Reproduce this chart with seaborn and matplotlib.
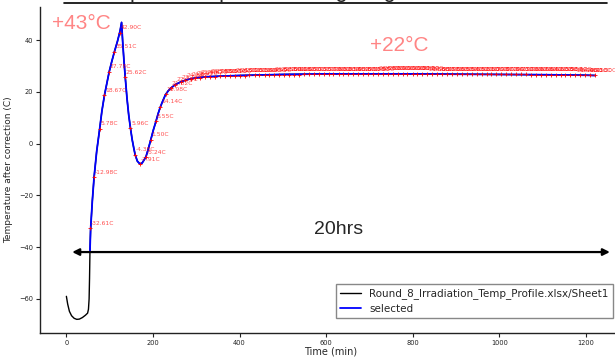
import numpy as np
import pandas as pd
import matplotlib.pyplot as plt
import seaborn as sns

sns.set_theme(style="ticks")
plt.rcParams['font.family'] = ['DejaVu Sans']

# -----------------------------------
# data
# -----------------------------------

# raw data before the selected window (black line)
pre_time = [0, 3, 7, 12, 18, 24, 30, 37, 44, 49, 51, 52.5, 53.5]
pre_temp = [-59, -62, -64.8, -66.5, -67.5, -67.9, -67.8, -67.2, -66.3, -65.5, -64, -60, -52]

# selected window (blue line)
sel_time = [54.5, 56, 60, 64, 70, 77, 82, 88, 94, 99, 105, 111, 118, 124, 127.5,
            130, 133, 136, 140, 144, 148, 152, 156, 159, 164, 170, 175, 180, 184,
            189, 195, 201, 207, 212, 217, 223, 229, 235, 241, 252, 264, 275, 287,
            300, 325, 350, 400, 450, 500, 550, 600, 700, 800, 900, 1000, 1100,
            1200, 1222]
sel_temp = [-41.3, -33, -22, -13, -3, 5.8, 12.5, 18.7, 23.7, 27.8, 31.8, 35.5, 39.5, 43.5, 46.8,
            39.5, 32, 25.6, 17.5, 11, 6, 1.5, -2, -4.4, -6.8, -7.9, -7.5, -6.2, -5.0,
            -2.2, 1.5, 5.3, 8.6, 11.6, 14.1, 16.6, 18.9, 20.3, 21.4, 22.8, 23.8, 24.5, 25.0,
            25.4, 25.8, 26.0, 26.3, 26.5, 26.7, 26.8, 26.9, 26.9, 26.9, 26.8, 26.7, 26.6,
            26.4, 26.3]

# labelled sample points (red + markers)
mark_time = [55, 64, 77, 88, 99, 111, 124, 136, 148, 159, 171, 184, 195, 207, 217, 229,
             241, 252, 264, 275, 287, 298, 309, 321, 332, 344, 355, 366, 378, 389, 401,
             412, 423, 435, 446, 458, 469, 480, 492, 503, 515, 526, 537, 549, 560, 572,
             583, 594, 606, 617, 629, 640, 651, 663, 674, 686, 697, 708, 720, 731, 743,
             754, 765, 777, 788, 800, 811, 822, 834, 845, 857, 868, 879, 891, 902, 914,
             925, 936, 948, 959, 971, 982, 993, 1005, 1016, 1028, 1039, 1050, 1062, 1073,
             1085, 1096, 1107, 1119, 1130, 1142, 1153, 1164, 1176, 1187, 1199, 1210, 1221]
mark_temp = [-32.61, -12.98, 5.78, 18.67, 27.78, 35.51, 42.90, 25.62, 5.96, -4.38, -7.91,
             -5.24, 1.50, 8.55, 14.14, 18.98, 21.32, 22.75, 23.71, 24.38, 24.86, 25.21,
             25.46, 25.62, 25.74, 25.85, 25.93, 26.01, 26.08, 26.15, 26.21, 26.26, 26.31,
             26.36, 26.40, 26.45, 26.49, 26.52, 26.56, 26.59, 26.62, 26.65, 26.68, 26.70,
             26.73, 26.75, 26.77, 26.79, 26.80, 26.82, 26.83, 26.84, 26.85, 26.86, 26.87,
             26.87, 26.88, 26.88, 26.89, 26.89, 26.89, 26.90, 26.90, 26.90, 26.90, 26.89,
             26.89, 26.89, 26.88, 26.88, 26.87, 26.87, 26.86, 26.85, 26.85, 26.84, 26.83,
             26.82, 26.81, 26.80, 26.79, 26.78, 26.77, 26.76, 26.74, 26.73, 26.72, 26.70,
             26.69, 26.67, 26.66, 26.64, 26.62, 26.60, 26.58, 26.56, 26.54, 26.52, 26.49,
             26.46, 26.41, 26.36, 26.30]

raw_label = "Round_8_Irradiation_Temp_Profile.xlsx/Sheet1"
sel_label = "selected"

# -----------------------------------
# plot
# -----------------------------------

raw = pd.DataFrame({"t": pre_time + sel_time, "T": pre_temp + sel_temp})
sel = pd.DataFrame({"t": sel_time, "T": sel_temp})
marks = pd.DataFrame({"t": mark_time, "T": mark_temp})

fig, ax = plt.subplots(figsize=(6.15, 3.57), dpi=100)
fig.subplots_adjust(left=0.065, right=1.011, bottom=0.067, top=0.980)

sns.lineplot(data=raw, x="t", y="T", color="black", lw=1.0, label=raw_label,
             estimator=None, sort=False, ax=ax)
sns.lineplot(data=sel, x="t", y="T", color="blue", lw=1.3, label=sel_label,
             estimator=None, sort=False, ax=ax)
sns.scatterplot(data=marks, x="t", y="T", marker="+", color="red", s=9,
                linewidth=0.6, legend=False, ax=ax, zorder=3)

for t, v in zip(mark_time, mark_temp):
    ax.annotate(f"{v:.2f}C", (t, v), xytext=(0.5, 2.5), textcoords="offset points",
                fontsize=4.3, color="red", alpha=0.7)

ax.set_xlim(-61, 1283)
ax.set_ylim(-73.2, 52.7)
ax.set_xticks([0, 200, 400, 600, 800, 1000, 1200])
ax.set_yticks([-60, -40, -20, 0, 20, 40])
ax.tick_params(labelsize=4.8, length=3, width=0.8, pad=2, colors="#222222")
ax.set_xlabel("Time (min)", fontsize=7, labelpad=0)
ax.set_ylabel("Temperature after correction (C)", fontsize=6.5, labelpad=4)
sns.despine(ax=ax)
for s in ["left", "bottom"]:
    ax.spines[s].set_linewidth(1.0)
    ax.spines[s].set_color("#222222")

leg = ax.legend(loc="lower right", bbox_to_anchor=(0.985, 0.046), borderaxespad=0,
                fontsize=7.5, labelspacing=0.45, fancybox=False, edgecolor="#888888",
                framealpha=1)

# overlays on the screenshot
ax.annotate("", xy=(7, -41.9), xytext=(1262, -41.9), annotation_clip=False,
            arrowprops=dict(arrowstyle="<|-|>", color="black", lw=1.6, mutation_scale=10))
ax.text(628, -33, "20hrs", fontsize=14, ha="center", va="center",
        family=["Liberation Sans", "DejaVu Sans"])
ax.text(35, 46.5, "+43°C", fontsize=15, ha="center", va="center", color="#ff7070",
        alpha=0.85, family=["Liberation Sans", "DejaVu Sans"])
ax.text(769, 38, "+22°C", fontsize=15, ha="center", va="center", color="#ff7070",
        alpha=0.85, family=["Liberation Sans", "DejaVu Sans"])

fig.text(0.55, 1.0 + 3.5 / 357, "Temperature profile during long irradiation, round 8",
         fontsize=16, ha="center", va="baseline", family=["Liberation Sans", "DejaVu Sans"])
fig.add_artist(plt.Line2D([64 / 615, 607 / 615], [1 - 2.5 / 357] * 2, color="black", lw=1.2))

plt.savefig("out.png", dpi=100)
